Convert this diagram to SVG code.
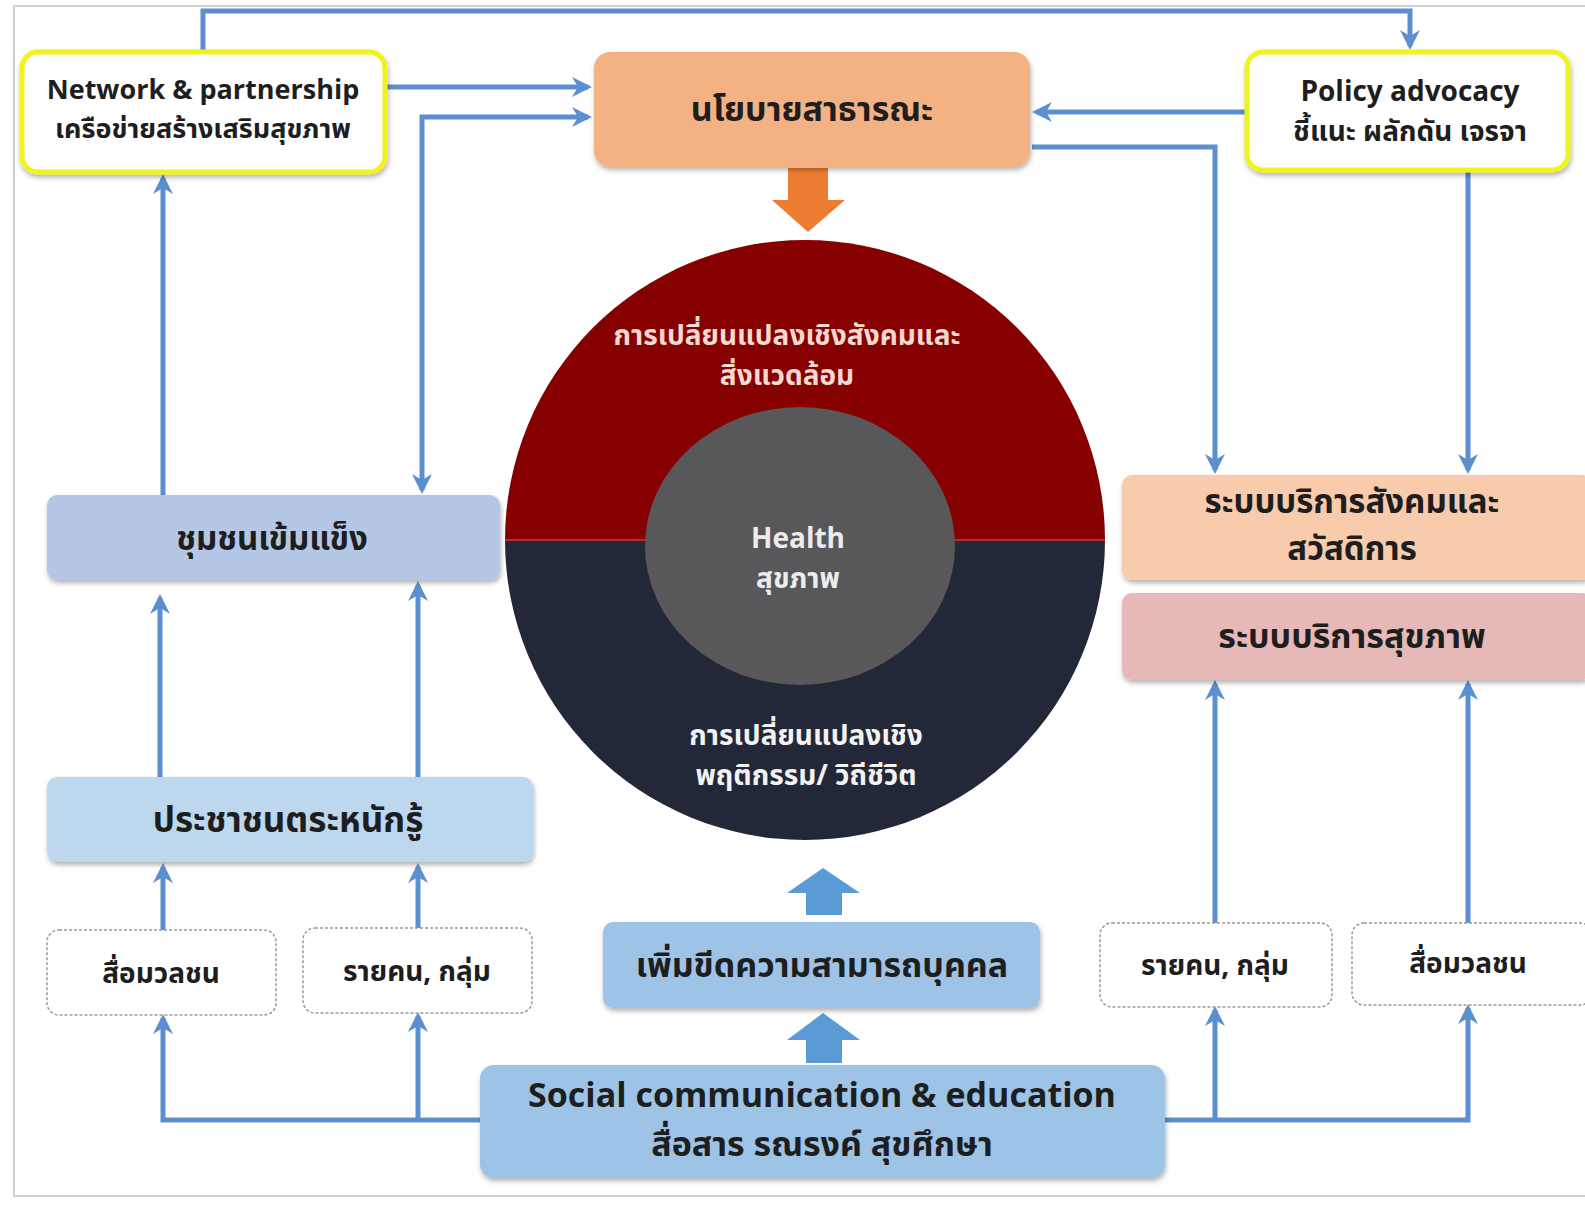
<svg xmlns="http://www.w3.org/2000/svg" width="1585" height="1212" viewBox="0 0 1585 1212">
<style>
.ln{fill:none;stroke:#5b8fcf;stroke-width:5;stroke-linejoin:miter}
.t{font-family:"Noto Sans Thai","Noto Sans","DejaVu Sans",sans-serif;fill:#1e1e1e;text-anchor:middle;font-weight:bold}
.w{font-family:"Noto Sans Thai","Noto Sans","DejaVu Sans",sans-serif;text-anchor:middle;font-weight:bold}
.yel{fill:#ffffff;stroke:#f2f21e;stroke-width:5}
.dash{fill:#ffffff;stroke:#9a9a9a;stroke-width:1.5;stroke-dasharray:3 2}
</style>
<defs>
<marker id="ah" viewBox="0 0 10 10" refX="8" refY="5" markerWidth="4" markerHeight="4" orient="auto-start-reverse" markerUnits="strokeWidth">
<path d="M0,0 L10,5 L0,10 L3,5 z" fill="#5b8fcf"/>
</marker>
<filter id="sh" x="-5%" y="-10%" width="110%" height="125%">
<feDropShadow dx="1" dy="3" stdDeviation="2.5" flood-color="#000" flood-opacity="0.3"/>
</filter>
</defs>
<rect x="0" y="0" width="1585" height="1212" fill="#ffffff"/>
<rect x="14" y="6" width="1590" height="1190" fill="none" stroke="#cfcfcf" stroke-width="2"/>

<g id="connectors">
<polyline class="ln" points="203,52 203,11 1410,11 1410,46" marker-end="url(#ah)"/>
<line class="ln" x1="387" y1="87" x2="588" y2="87" marker-end="url(#ah)"/>
<polyline class="ln" points="422,490 422,117 588,117" marker-start="url(#ah)" marker-end="url(#ah)"/>
<line class="ln" x1="1247" y1="112" x2="1036" y2="112" marker-end="url(#ah)"/>
<polyline class="ln" points="1032,147 1215,147 1215,470" marker-end="url(#ah)"/>
<line class="ln" x1="1468" y1="172" x2="1468" y2="470" marker-end="url(#ah)"/>
<line class="ln" x1="163" y1="495" x2="163" y2="178" marker-end="url(#ah)"/>
<line class="ln" x1="160" y1="777" x2="160" y2="598" marker-end="url(#ah)"/>
<line class="ln" x1="418" y1="777" x2="418" y2="585" marker-end="url(#ah)"/>
<line class="ln" x1="163" y1="930" x2="163" y2="867" marker-end="url(#ah)"/>
<line class="ln" x1="418" y1="928" x2="418" y2="867" marker-end="url(#ah)"/>
<polyline class="ln" points="482,1120 163,1120 163,1018" marker-end="url(#ah)"/>
<line class="ln" x1="418" y1="1120" x2="418" y2="1016" marker-end="url(#ah)"/>
<polyline class="ln" points="1163,1120 1468,1120 1468,1008" marker-end="url(#ah)"/>
<line class="ln" x1="1215" y1="1120" x2="1215" y2="1010" marker-end="url(#ah)"/>
<line class="ln" x1="1215" y1="923" x2="1215" y2="684" marker-end="url(#ah)"/>
<line class="ln" x1="1468" y1="923" x2="1468" y2="684" marker-end="url(#ah)"/>
<polygon points="788,168 828,168 828,200 845,200 808,232 772,200 788,200" fill="#ed7d31"/>
<polygon points="555,528 610,528 610,518 636,540 610,562 610,552 555,552" fill="#3b7bc0"/>
<polygon points="1073,528 1018,528 1018,518 992,540 1018,562 1018,552 1073,552" fill="#ee8433"/>
<polygon points="806,915 842,915 842,893 860,893 823,868 787,893 806,893" fill="#5b9bd5"/>
<polygon points="806,1063 842,1063 842,1040 860,1040 823,1013 787,1040 806,1040" fill="#5b9bd5"/>
</g>

<g id="network">
<rect class="yel" x="22" y="52" width="363" height="120" rx="16" filter="url(#sh)"/>
<text class="t" x="203" y="99" font-size="27">Network &amp; partnership</text>
<text class="t" x="203" y="138" font-size="27">เครือข่ายสร้างเสริมสุขภาพ</text>
</g>
<g id="policy">
<rect class="yel" x="1247" y="52" width="321" height="118" rx="16" filter="url(#sh)"/>
<text class="t" x="1410" y="101" font-size="28">Policy advocacy</text>
<text class="t" x="1410" y="141" font-size="28">ชี้แนะ ผลักดัน เจรจา</text>
</g>
<g id="public-policy">
<rect x="594" y="52" width="436" height="115" rx="16" fill="#f4b183" filter="url(#sh)"/>
<text class="t" x="812" y="121" font-size="34">นโยบายสาธารณะ</text>
</g>

<g id="circle">
<path d="M505,540 A300,300 0 0 1 1105,540 Z" fill="#870000"/>
<path d="M505,540 A300,300 0 0 0 1105,540 Z" fill="#232838"/>
<line x1="505" y1="540" x2="1105" y2="540" stroke="#b03030" stroke-width="2"/>
<ellipse cx="800" cy="546" rx="155" ry="139" fill="#58585b"/>
<text class="w" x="787" y="345" font-size="28" fill="#f3d9d0">การเปลี่ยนแปลงเชิงสังคมและ</text>
<text class="w" x="787" y="385" font-size="28" fill="#f3d9d0">สิ่งแวดล้อม</text>
<text class="w" x="798" y="548" font-size="28" fill="#ececec">Health</text>
<text class="w" x="798" y="588" font-size="28" fill="#ececec">สุขภาพ</text>
<text class="w" x="806" y="745" font-size="28" fill="#f2f2f2">การเปลี่ยนแปลงเชิง</text>
<text class="w" x="806" y="785" font-size="28" fill="#f2f2f2">พฤติกรรม/ วิถีชีวิต</text>
</g>

<g id="community">
<rect x="47" y="495" width="453" height="85" rx="10" fill="#b4c7e7" filter="url(#sh)"/>
<text class="t" x="272" y="550" font-size="33">ชุมชนเข้มแข็ง</text>
</g>
<g id="awareness">
<rect x="47" y="777" width="486" height="85" rx="10" fill="#bdd7ee" filter="url(#sh)"/>
<text class="t" x="288" y="832" font-size="35">ประชาชนตระหนักรู้</text>
</g>
<g id="mass-media-left">
<rect class="dash" x="47" y="930" width="229" height="85" rx="12"/>
<text class="t" x="161" y="983" font-size="28">สื่อมวลชน</text>
</g>
<g id="individual-left">
<rect class="dash" x="303" y="928" width="229" height="85" rx="12"/>
<text class="t" x="417" y="981" font-size="28">รายคน, กลุ่ม</text>
</g>

<g id="social-welfare">
<rect x="1122" y="475" width="470" height="105" rx="10" fill="#f8cbad" filter="url(#sh)"/>
<text class="t" x="1352" y="513" font-size="33">ระบบบริการสังคมและ</text>
<text class="t" x="1352" y="560" font-size="33">สวัสดิการ</text>
</g>
<g id="health-service">
<rect x="1122" y="593" width="470" height="87" rx="10" fill="#e6b9b8" filter="url(#sh)"/>
<text class="t" x="1352" y="648" font-size="34">ระบบบริการสุขภาพ</text>
</g>
<g id="individual-right">
<rect class="dash" x="1100" y="923" width="232" height="84" rx="12"/>
<text class="t" x="1215" y="975" font-size="28">รายคน, กลุ่ม</text>
</g>
<g id="mass-media-right">
<rect class="dash" x="1352" y="923" width="240" height="82" rx="12"/>
<text class="t" x="1468" y="973" font-size="28">สื่อมวลชน</text>
</g>

<g id="capacity">
<rect x="603" y="922" width="437" height="86" rx="10" fill="#9dc3e6" filter="url(#sh)"/>
<text class="t" x="822" y="977" font-size="34">เพิ่มขีดความสามารถบุคคล</text>
</g>
<g id="social-communication">
<rect x="480" y="1065" width="685" height="113" rx="14" fill="#9dc3e6" filter="url(#sh)"/>
<text class="t" x="822" y="1107" font-size="34">Social communication &amp; education</text>
<text class="t" x="822" y="1156" font-size="34">สื่อสาร รณรงค์ สุขศึกษา</text>
</g>
</svg>
